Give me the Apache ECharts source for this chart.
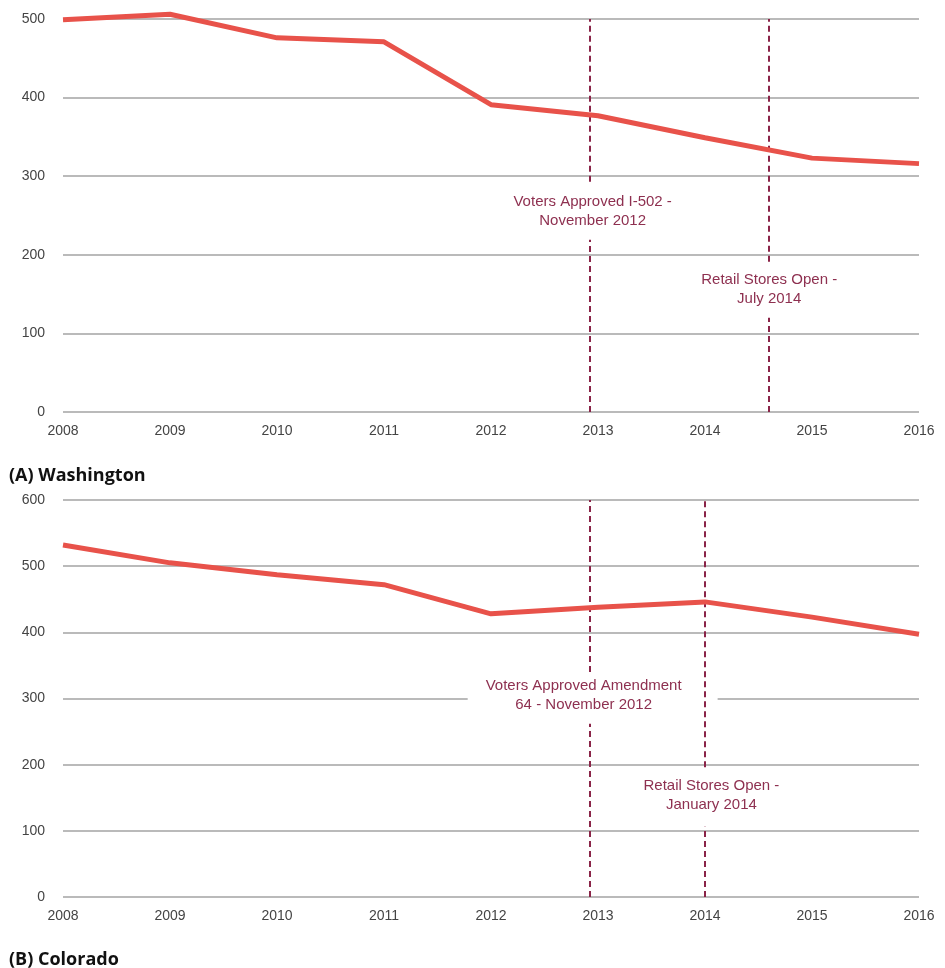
<!DOCTYPE html>
<html>
<head>
<meta charset="utf-8">
<script src="https://cdn.jsdelivr.net/npm/echarts@6/dist/echarts.min.js"></script>
<style>html,body{margin:0;padding:0;background:#fff}#c{width:945px;height:968px}</style>
</head>
<body>
<div id="c"></div>
<script>
// ---- data ----
const years = [2008, 2009, 2010, 2011, 2012, 2013, 2014, 2015, 2016];
const waValues = [499, 506, 476, 471, 391, 377, 349, 323, 316];
const coValues = [532, 505, 487, 472, 428, 438, 446, 423, 397];
const panelTitles = ['(A) Washington', '(B) Colorado'];

// event markers (x in fractional years)
const waEventX = [2012.92, 2014.6];
const waEventText = ['Voters Approved I-502 -\nNovember 2012', 'Retail Stores Open -\nJuly 2014'];
const waLabelX = [2012.95, 2014.6];
const waLabelY = [255, 156];
const waGapLow = [219, 120];
const waGapHigh = [293, 191];
const waYMax = 500;

const coEventX = [2012.92, 2014.0];
const coEventText = ['Voters Approved Amendment\n64 - November 2012', 'Retail Stores Open -\nJanuary 2014'];
const coLabelX = [2012.95, 2014.06];
const coLabelY = [305, 154];
const coGapLow = [262, 106];
const coGapHigh = [340, 196];
const coYMax = 600;

// ---- styles ----
const lineColor = '#e8524a';
const eventColor = '#8a2448';
const textEventColor = '#8e3050';
const gridColor = '#a3a3a3';
const axisFont = 'Liberation Sans, Arial, sans-serif';

function pairs(xs, ys) { return xs.map((x, i) => [x, ys[i]]); }

function eventLines(xs, lo, hi, ymax) {
  const out = [];
  xs.forEach((x, i) => {
    out.push([{ coord: [x, 0] }, { coord: [x, lo[i]] }]);
    out.push([{ coord: [x, hi[i]] }, { coord: [x, ymax] }]);
  });
  return out;
}
function eventLabels(xs, ys, texts, pads) {
  return xs.map((x, i) => ({
    coord: [x, ys[i]],
    label: {
      formatter: texts[i],
      padding: pads[i]
    }
  }));
}

const xAxisBase = {
  type: 'value', min: 2008, max: 2016, interval: 1,
  axisLine: { show: false }, axisTick: { show: false }, splitLine: { show: false },
  axisLabel: { color: '#444', fontSize: 14, fontFamily: axisFont, margin: 12,
    formatter: v => String(v) }
};
const yAxisBase = {
  type: 'value', min: 0, interval: 100,
  axisLine: { show: false }, axisTick: { show: false },
  splitLine: { lineStyle: { color: gridColor, width: 1.5 } },
  axisLabel: { color: '#444', fontSize: 14, fontFamily: axisFont, margin: 18 }
};

function markerSeries(xi, yi, xs, lo, hi, ymax, lx, ly, texts, pads) {
  return {
    type: 'line', xAxisIndex: xi, yAxisIndex: yi, data: [], silent: true,
    markLine: {
      silent: true, symbol: ['none', 'none'], z: 6,
      lineStyle: { color: eventColor, width: 2, type: [6, 4] },
      label: { show: false },
      data: eventLines(xs, lo, hi, ymax)
    },
    markPoint: {
      silent: true, symbol: 'rect', symbolSize: 1, z: 4,
      itemStyle: { color: 'rgba(0,0,0,0)' },
      label: {
        show: true, position: 'inside', color: textEventColor,
        fontSize: 15, fontFamily: axisFont, lineHeight: 19, align: 'center',
        backgroundColor: '#ffffff'
      },
      data: eventLabels(lx, ly, texts, pads)
    }
  };
}

const option = {
  backgroundColor: '#ffffff',
  animation: false,
  title: [
    { text: panelTitles[0], left: 4, top: 462,
      textStyle: { fontFamily: 'Open Sans', fontWeight: 'bold', fontSize: 18, color: '#111' } },
    { text: panelTitles[1], left: 4, top: 946,
      textStyle: { fontFamily: 'Open Sans', fontWeight: 'bold', fontSize: 18, color: '#111' } }
  ],
  grid: [
    { left: 63, right: 26, top: 19, height: 393 },
    { left: 63, right: 26, top: 500, height: 397 }
  ],
  xAxis: [
    Object.assign({ gridIndex: 0 }, xAxisBase),
    Object.assign({ gridIndex: 1 }, xAxisBase)
  ],
  yAxis: [
    Object.assign({ gridIndex: 0, max: waYMax }, yAxisBase),
    Object.assign({ gridIndex: 1, max: coYMax }, yAxisBase)
  ],
  series: [
    markerSeries(0, 0, waEventX, waGapLow, waGapHigh, waYMax, waLabelX, waLabelY, waEventText,
      [[2, 4], [2, 4]]),
    markerSeries(1, 1, coEventX, coGapLow, coGapHigh, coYMax, coLabelX, coLabelY, coEventText,
      [[2, 36, 2, 18], [2, 4]]),
    { type: 'line', xAxisIndex: 0, yAxisIndex: 0, data: pairs(years, waValues),
      showSymbol: false, symbol: 'none', z: 10, clip: false,
      lineStyle: { color: lineColor, width: 5 } },
    { type: 'line', xAxisIndex: 1, yAxisIndex: 1, data: pairs(years, coValues),
      showSymbol: false, symbol: 'none', z: 10, clip: false,
      lineStyle: { color: lineColor, width: 5 } }
  ]
};

const chart = echarts.init(document.getElementById('c'), null, { renderer: 'canvas' });
chart.setOption(option);
</script>
</body>
</html>
